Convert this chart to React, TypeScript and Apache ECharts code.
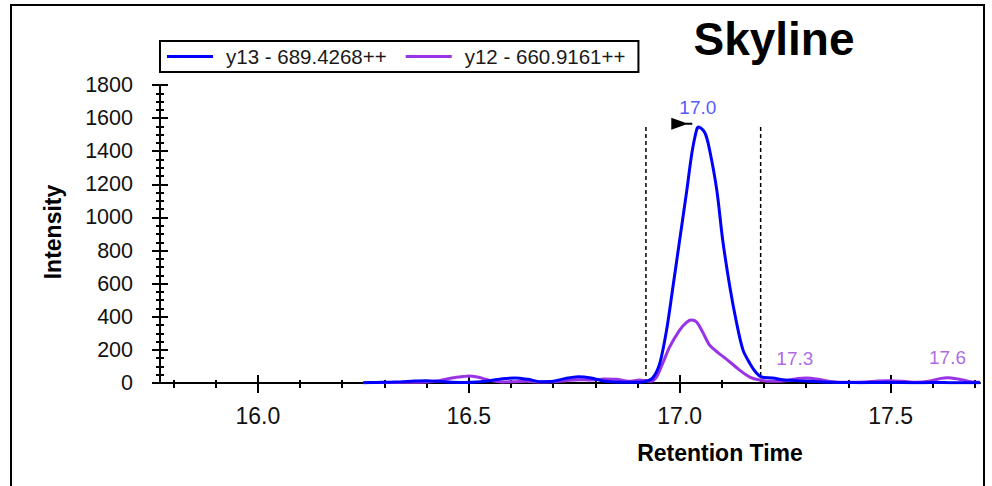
import React, { useEffect, useRef } from 'react';
import * as echarts from 'echarts';

// ---- data ----
const seriesNames = ['y13 - 689.4268++', 'y12 - 660.9161++'];

const t13 = [16.25, 16.28, 16.31, 16.34, 16.37, 16.40, 16.43, 16.46, 16.49, 16.52, 16.55, 16.58, 16.61, 16.64, 16.67, 16.70, 16.73, 16.76, 16.79, 16.82, 16.85, 16.88, 16.905, 16.92, 16.936, 16.953, 16.969, 16.984, 17.0, 17.017, 17.029, 17.04, 17.045, 17.06, 17.071, 17.088, 17.102, 17.119, 17.135, 17.15, 17.166, 17.182, 17.194, 17.22, 17.25, 17.28, 17.31, 17.34, 17.37, 17.40, 17.43, 17.46, 17.49, 17.52, 17.55, 17.58, 17.61, 17.64, 17.67, 17.70, 17.712];
const v13 = [2, 3, 5, 8, 12, 14, 10, 4, 3, 6, 14, 26, 30, 22, 8, 10, 28, 38, 30, 12, 6, 4, 5, 10, 30, 120, 320, 580, 864, 1165, 1390, 1528, 1546, 1510, 1407, 1165, 864, 580, 362, 200, 120, 60, 36, 30, 18, 14, 10, 6, 4, 3, 2, 3, 4, 3, 2, 2, 3, 2, 2, 2, 2];

const t12 = [16.25, 16.30, 16.35, 16.40, 16.43, 16.46, 16.49, 16.50, 16.52, 16.55, 16.58, 16.61, 16.64, 16.67, 16.70, 16.73, 16.76, 16.79, 16.82, 16.85, 16.88, 16.905, 16.93, 16.945, 16.96, 16.976, 17.0, 17.017, 17.028, 17.04, 17.055, 17.07, 17.085, 17.1, 17.119, 17.142, 17.166, 17.19, 17.22, 17.25, 17.28, 17.30, 17.33, 17.36, 17.40, 17.44, 17.47, 17.50, 17.53, 17.56, 17.59, 17.62, 17.635, 17.66, 17.69, 17.712];
const v12 = [2, 3, 4, 6, 14, 30, 40, 42, 36, 16, 6, 8, 10, 6, 8, 14, 20, 18, 24, 22, 10, 18, 10, 36, 120, 217, 320, 368, 380, 368, 305, 232, 195, 165, 127, 78, 36, 18, 10, 14, 28, 30, 22, 8, 4, 6, 12, 14, 10, 4, 10, 28, 32, 24, 8, 4];

const xMin = 15.768;
const xMax = 17.712;
const xMajorTicks = [16.0, 16.5, 17.0, 17.5];
const xMinorTicks = [15.8, 15.9, 16.1, 16.2, 16.3, 16.4, 16.6, 16.7, 16.8, 16.9, 17.1, 17.2, 17.3, 17.4, 17.6, 17.7];
const yMin = 0;
const yMax = 1800;
const yInterval = 200;

const boundaryX = [16.92, 17.192];
const boundaryTop = 1546;

const peakX = [17.043, 17.273, 17.635];
const peakY = [1546, 30, 32];
const peakLabels = ['17.0', '17.3', '17.6'];
const peakSeriesIdx = [0, 1, 1];

const markerPoint = [17.005, 1566];

// ---- styles ----
const COLORS = ['#0000ff', '#9933e6'];
const LABEL_COLORS = ['#2a2aff', '#9b3fe0'];
const FONT = '"Liberation Sans", Arial, Helvetica, sans-serif';

export default function App() {
  const ref = useRef<HTMLDivElement>(null);

  useEffect(() => {
    if (!ref.current) return;
    const chart = echarts.init(ref.current, undefined, { renderer: 'svg' });

    const baseX = {
      type: 'value',
      min: xMin,
      max: xMax,
      position: 'bottom',
      splitLine: { show: false },
    };
    const baseY = {
      type: 'value',
      min: yMin,
      max: yMax,
      interval: yInterval,
      position: 'left',
      splitLine: { show: false },
    };

    const option: any = {
      animation: false,
      backgroundColor: '#ffffff',
      grid: { left: 160, top: 85, right: 12, bottom: 103, containLabel: false, outerBoundsMode: 'none' },
      legend: {
        data: seriesNames,
        left: 160,
        top: 41,
        orient: 'horizontal',
        icon: 'rect',
        itemWidth: 46,
        itemHeight: 3,
        itemGap: 19,
        padding: [5, 13, 5, 7],
        borderColor: '#000',
        borderWidth: 2,
        selectedMode: false,
        textStyle: { fontSize: 20.5, color: '#1a1a1a', fontFamily: FONT, padding: [0, 0, 0, 8] },
      },
      xAxis: [
        {
          ...baseX,
          axisLine: { show: true, onZero: false, lineStyle: { color: '#000', width: 2 } },
          axisTick: { show: true, customValues: xMajorTicks, length: 10, lineStyle: { color: '#000', width: 2 } },
          axisLabel: {
            show: true,
            customValues: xMajorTicks,
            formatter: (v: number) => v.toFixed(1),
            fontSize: 23,
            color: '#111',
            fontFamily: FONT,
            margin: 21,
          },
        },
        {
          ...baseX,
          axisLine: { show: false },
          axisTick: { show: true, inside: true, customValues: xMajorTicks, length: 8, lineStyle: { color: '#000', width: 2 } },
          axisLabel: { show: false },
        },
        {
          ...baseX,
          axisLine: { show: false },
          axisTick: { show: true, customValues: xMinorTicks, length: 5, lineStyle: { color: '#000', width: 2 } },
          axisLabel: { show: false },
        },
        {
          ...baseX,
          axisLine: { show: false },
          axisTick: { show: true, inside: true, customValues: xMinorTicks, length: 3, lineStyle: { color: '#000', width: 2 } },
          axisLabel: { show: false },
        },
      ],
      yAxis: [
        {
          ...baseY,
          axisLine: { show: true, onZero: false, lineStyle: { color: '#000', width: 2 } },
          axisTick: { show: true, length: 8, lineStyle: { color: '#000', width: 2 } },
          minorTick: { show: true, splitNumber: 4, length: 4, lineStyle: { color: '#000', width: 2 } },
          axisLabel: {
            show: true,
            fontSize: 21.5,
            color: '#111',
            fontFamily: FONT,
            margin: 27,
            formatter: (v: number) => String(v),
          },
        },
        {
          ...baseY,
          axisLine: { show: false },
          axisTick: { show: true, inside: true, length: 8, lineStyle: { color: '#000', width: 2 } },
          minorTick: { show: true, splitNumber: 4, length: 4, lineStyle: { color: '#000', width: 2 } },
          axisLabel: { show: false },
        },
      ],
      series: [
        {
          name: seriesNames[1],
          type: 'line',
          data: t12.map((t, i) => [t, v12[i]]),
          symbol: 'none',
          showSymbol: false,
          smooth: 0.3,
          color: COLORS[1],
          lineStyle: { color: COLORS[1], width: 3 },
          z: 3,
        },
        {
          name: seriesNames[0],
          type: 'line',
          data: t13.map((t, i) => [t, v13[i]]),
          symbol: 'none',
          showSymbol: false,
          smooth: 0.3,
          color: COLORS[0],
          lineStyle: { color: COLORS[0], width: 3 },
          z: 4,
        },
        ...boundaryX.map((bx) => ({
          name: 'boundary',
          type: 'line',
          data: [[bx, 0], [bx, boundaryTop]],
          symbol: 'none',
          lineStyle: { color: '#000', width: 1.5, type: [4, 3] },
          z: 2,
          silent: true,
        })),
        {
          name: 'marker',
          type: 'scatter',
          data: [markerPoint],
          symbol: 'path://M0,0 L14,5 L21,5 L21,7 L14,7 L0,12 Z',
          symbolSize: [21, 12],
          itemStyle: { color: '#000', opacity: 1 },
          z: 5,
          silent: true,
        },
        {
          name: 'peaks',
          type: 'scatter',
          data: peakX.map((px, i) => ({
            value: [px, peakY[i]],
            label: { color: LABEL_COLORS[peakSeriesIdx[i]] },
          })),
          symbolSize: 1,
          itemStyle: { color: 'rgba(0,0,0,0)' },
          label: {
            show: true,
            position: 'top',
            distance: 10,
            fontSize: 19,
            fontFamily: FONT,
            formatter: (p: any) => peakLabels[p.dataIndex],
          },
          z: 6,
          silent: true,
        },
      ],
      graphic: [
        {
          type: 'rect',
          shape: { x: 11, y: 5, width: 973, height: 520 },
          style: { fill: 'none', stroke: '#000', lineWidth: 2 },
          silent: true,
        },
        {
          type: 'text',
          x: 774,
          y: 39,
          style: {
            text: 'Skyline',
            fontSize: 46,
            fontWeight: 'bold',
            fontFamily: FONT,
            fill: '#000',
            textAlign: 'center',
            textVerticalAlign: 'middle',
          },
        },
        {
          type: 'text',
          x: 720,
          y: 453,
          style: {
            text: 'Retention Time',
            fontSize: 23,
            fontWeight: 'bold',
            fontFamily: FONT,
            fill: '#000',
            textAlign: 'center',
            textVerticalAlign: 'middle',
          },
        },
        {
          type: 'text',
          x: 53,
          y: 232,
          rotation: Math.PI / 2,
          style: {
            text: 'Intensity',
            fontSize: 23,
            fontWeight: 'bold',
            fontFamily: FONT,
            fill: '#000',
            textAlign: 'center',
            textVerticalAlign: 'middle',
          },
        },
      ],
    };

    chart.setOption(option);
    return () => chart.dispose();
  }, []);

  return (
    <div
      ref={ref}
      style={{ position: 'absolute', left: 0, top: 0, width: 992, height: 486, background: '#fff' }}
    />
  );
}
